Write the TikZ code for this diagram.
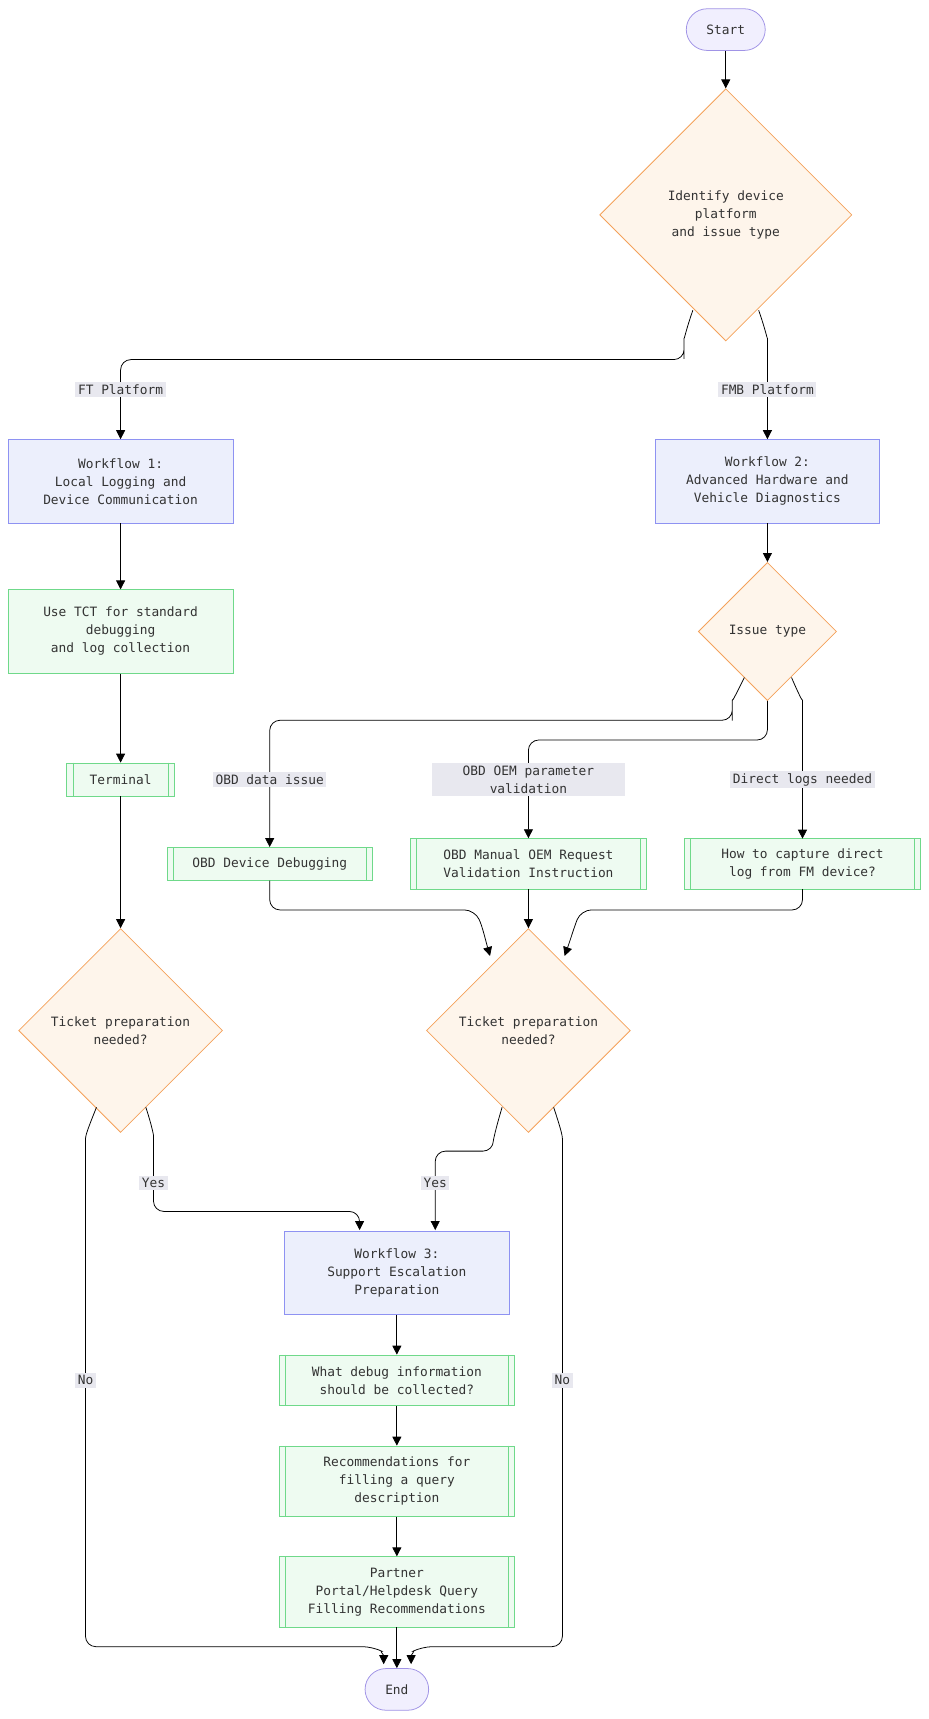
\documentclass[tikz,border=0pt]{standalone}
\usepackage{fontspec}
\setmainfont{DejaVu Sans Mono}
\usetikzlibrary{shapes.geometric,arrows.meta}
\definecolor{purF}{HTML}{F1EFFE}\definecolor{purD}{HTML}{A093E6}
\definecolor{bluF}{HTML}{ECEFFC}\definecolor{bluD}{HTML}{8E92F2}
\definecolor{grnF}{HTML}{EEFBF1}\definecolor{grnD}{HTML}{6FD98A}
\definecolor{orF}{HTML}{FEF5EB}\definecolor{orD}{HTML}{F4A15A}
\definecolor{lbl}{HTML}{E8E8EF}\definecolor{txt}{HTML}{333333}
\begin{document}
\begin{tikzpicture}[x=0.03cm,y=-0.03cm,
 every node/.style={font=\fontsize{10}{14}\selectfont,text=txt,align=center},
 term/.style={draw=purD,fill=purF,rounded corners=0.57cm,minimum height=1.14cm,line width=0.6pt},
 wf/.style={draw=bluD,fill=bluF,minimum width=6.15cm,minimum height=2.28cm,line width=0.6pt},
 sub/.style={draw=grnD,fill=grnF,minimum width=6.45cm,minimum height=1.38cm,line width=0.6pt},
 dec/.style={draw=orD,fill=orF,diamond,aspect=1,inner sep=0pt,line width=0.6pt},
 lab/.style={fill=lbl,inner sep=2pt},
 arr/.style={-{Triangle[length=7pt,width=7pt]},line width=0.6pt,rounded corners=8pt}]
\useasboundingbox (0,0) rectangle (847,1568);
\newcommand\subl[1]{\draw[grnD,line width=0.6pt] ([xshift=0.18cm]#1.north west)--([xshift=0.18cm]#1.south west) ([xshift=-0.18cm]#1.north east)--([xshift=-0.18cm]#1.south east);}
\node[term,minimum width=2.16cm] (start) at (662,27) {Start};
\node[dec,minimum size=6.9cm] (d1) at (662,196) {Identify device\\platform\\and issue type};
\node[wf] (w1) at (110,439) {Workflow 1:\\Local Logging and\\Device Communication};
\node[wf] (w2) at (700,439) {Workflow 2:\\Advanced Hardware and\\Vehicle Diagnostics};
\node[sub,minimum width=6.15cm,minimum height=2.28cm] (tct) at (110,576) {Use TCT for standard\\debugging\\and log collection};
\node[sub,minimum width=2.94cm,minimum height=0.9cm] (term) at (110,711) {Terminal}; \subl{term}
\node[dec,minimum size=3.78cm] (it) at (700,576) {Issue type};
\node[sub,minimum width=5.61cm,minimum height=0.9cm] (obd) at (246,788) {OBD Device Debugging}; \subl{obd}
\node[sub] (man) at (482,788) {OBD Manual OEM Request\\Validation Instruction}; \subl{man}
\node[sub] (cap) at (732,788) {How to capture direct\\log from FM device?}; \subl{cap}
\node[dec,minimum size=5.58cm] (tl) at (110,940) {Ticket preparation\\needed?};
\node[dec,minimum size=5.58cm] (tr) at (482,940) {Ticket preparation\\needed?};
\node[wf] (w3) at (362,1161) {Workflow 3:\\Support Escalation\\Preparation};
\node[sub] (what) at (362,1259) {What debug information\\should be collected?}; \subl{what}
\node[sub,minimum height=1.92cm] (rec) at (362,1351) {Recommendations for\\filling a query\\description}; \subl{rec}
\node[sub,minimum height=1.92cm] (par) at (362,1452) {Partner\\Portal/Helpdesk Query\\Filling Recommendations}; \subl{par}
\node[term,minimum width=1.74cm] (end) at (362,1541) {End};
% edges
\draw[arr] (start) -- (d1);
\draw[arr] (632,283) .. controls (626,300) and (624,310) .. (624,318) -- (624,328) -- (110,328) -- (w1.north);
\draw[arr] (692,283) .. controls (698,300) and (700,310) .. (700,318) -- (700,328) -- (w2.north);
\node[lab] at (110,355) {FT Platform};
\node[lab] at (700,355) {FMB Platform};
\draw[arr] (w1) -- (tct);
\draw[arr] (tct) -- (term);
\draw[arr] (term) -- (tl);
\draw[arr] (w2) -- (it);
\draw[arr] (679,618) .. controls (672,632) and (668,640) .. (668,648) -- (668,657) -- (246,657) -- (obd.north);
\draw[arr] (it.south) -- (700,675) -- (482,675) -- (man.north);
\draw[arr] (722,618) .. controls (728,632) and (732,640) .. (732,648) -- (732,765);
\node[lab] at (246,711) {OBD data issue};
\node[lab,minimum width=5.3cm] at (482,711) {OBD OEM parameter\\validation};
\node[lab] at (732,711) {Direct logs needed};
\draw[arr] (obd.south) -- (246,830) -- (433,830) .. controls (440,845) and (443,858) .. (447,872);
\draw[arr] (man) -- (tr);
\draw[arr] (732,811) -- (732,830) -- (530,830) .. controls (524,845) and (520,858) .. (515,872);
\draw[arr] (88,1010) .. controls (82,1025) and (78,1035) .. (78,1048) -- (78,1502) -- (340,1502) .. controls (346,1505) and (350,1510) .. (350,1518);
\draw[arr] (133,1010) .. controls (138,1025) and (140,1035) .. (140,1045) -- (140,1105) -- (328,1105) -- (328,1122);
\draw[arr] (458,1010) .. controls (452,1030) and (450,1040) .. (450,1050) -- (397,1050) -- (397,1122);
\draw[arr] (505,1010) .. controls (510,1025) and (513,1035) .. (513,1048) -- (513,1502) -- (385,1502) .. controls (379,1505) and (375,1510) .. (375,1518);
\node[lab] at (78,1259) {No};
\node[lab] at (140,1079) {Yes};
\node[lab] at (397,1079) {Yes};
\node[lab] at (513,1259) {No};
\draw[arr] (w3) -- (what);
\draw[arr] (what) -- (rec);
\draw[arr] (rec) -- (par);
\draw[arr] (par) -- (end);
\end{tikzpicture}
\end{document}
